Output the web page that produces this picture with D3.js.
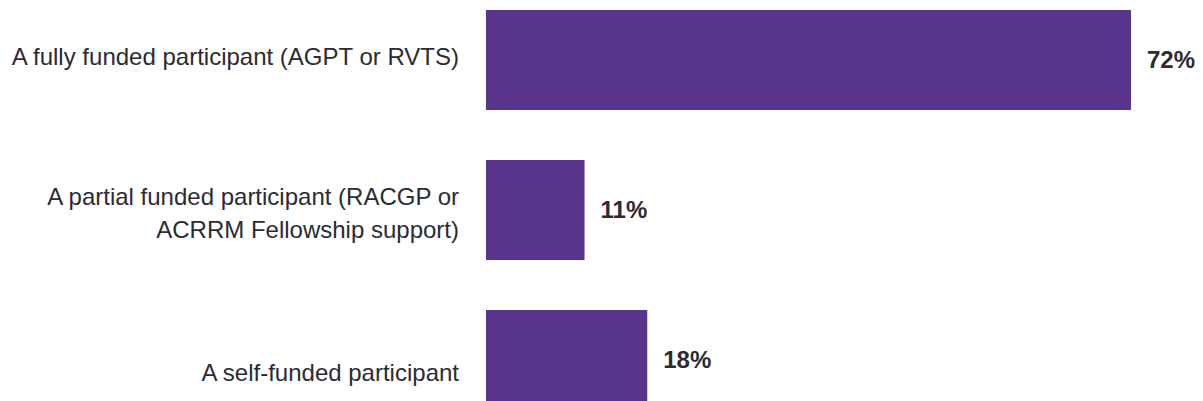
<!DOCTYPE html>
<html>
<head>
<meta charset="utf-8">
<script src="https://cdn.jsdelivr.net/npm/d3@7"></script>
<style>
    body { margin: 0; background: #fff; }
    svg { display: block; }
    text { font-family: "Liberation Sans", Arial, sans-serif; fill: #2b2b33; }
</style>
</head>
<body>
<div id="chart"></div>
<script>
// chart data
const categories = [
    ['A fully funded participant (AGPT or RVTS)'],
    ['A partial funded participant (RACGP or', 'ACRRM Fellowship support)'],
    ['A self-funded participant']
];
const values = [72, 11, 18];
const valueLabels = ['72%', '11%', '18%'];

const width = 1203;
const height = 401;
const barLeft = 486;

const svg = d3.select('#chart').append('svg')
    .attr('width', width)
    .attr('height', height);

const ids = d3.range(categories.length);

// x scale: 72% is roughly 645px wide
const x = d3.scaleLinear()
    .domain([0, 72])
    .range([barLeft, barLeft + 645]);

// bands are 150px apart, bars 100px tall; last one runs off the bottom
const y = d3.scaleBand()
    .domain(ids)
    .range([10, 410])
    .paddingInner(1 / 3)
    .paddingOuter(0);

const labelShift = [-3, 3, 13]; //category labels are not quite centred in the source

// bars
svg.selectAll('.bar')
    .data(ids)
    .enter().append('rect')
    .attr('class', 'bar')
    .attr('x', x(0))
    .attr('y', i => y(i))
    .attr('width', i => x(values[i]) - x(0))
    .attr('height', y.bandwidth())
    .attr('fill', '#59358c');

// value labels
svg.selectAll('.value')
    .data(ids)
    .enter().append('text')
    .attr('class', 'value')
    .attr('x', i => x(values[i]) + 16)
    .attr('y', i => y(i) + y.bandwidth() / 2)
    .attr('dy', '0.35em')
    .style('font-size', '24px')
    .style('font-weight', 'bold')
    .text(i => valueLabels[i]);

// category labels, right aligned left of the bars
const lineHeight = 33;
const cats = svg.selectAll('.cat')
    .data(ids)
    .enter().append('text')
    .attr('class', 'cat')
    .attr('text-anchor', 'end')
    .style('font-size', '24px');

cats.each(function (i) {
    const lines = categories[i];
    const mid = y(i) + y.bandwidth() / 2 + labelShift[i];
    const top = mid - (lines.length - 1) * lineHeight / 2;
    d3.select(this).selectAll('tspan')
        .data(lines)
        .enter().append('tspan')
        .attr('x', 459)
        .attr('y', (d, j) => top + j * lineHeight)
        .attr('dy', '0.35em')
        .text(d => d);
});
</script>
</body>
</html>
